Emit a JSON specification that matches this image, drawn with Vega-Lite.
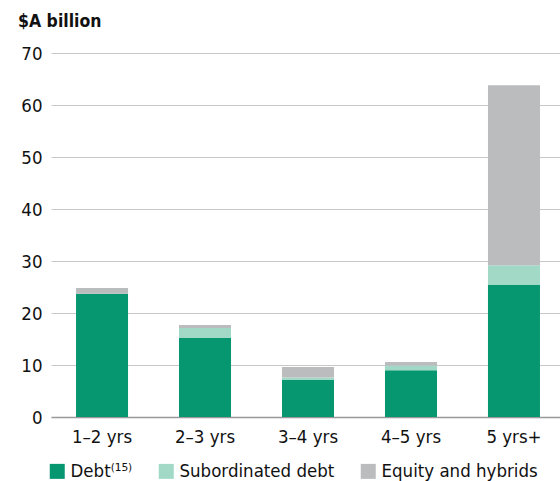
{
  "$schema": "https://vega.github.io/schema/vega-lite/v6.json",
  "autosize": "none",
  "width": 514,
  "height": 364,
  "padding": {"left": 51, "top": 53, "right": 0, "bottom": 64},
  "background": "white",
  "title": {
    "text": "$A billion",
    "anchor": "start",
    "frame": "group",
    "orient": "top",
    "offset": 14,
    "dx": -33,
    "fontSize": 17.5,
    "fontWeight": "bold",
    "color": "#111",
    "font": "Liberation Sans Narrow, DejaVu Sans Condensed, sans-serif"
  },
  "config": {
    "font": "Liberation Sans Narrow, DejaVu Sans Condensed, sans-serif",
    "view": {"stroke": null}
  },
  "data": {
    "values": [
      {"term": "1–2 yrs", "type": "Debt⁽¹⁵⁾", "value": 23.7},
      {"term": "1–2 yrs", "type": "Subordinated debt", "value": 0},
      {"term": "1–2 yrs", "type": "Equity and hybrids", "value": 1.1},
      {"term": "2–3 yrs", "type": "Debt⁽¹⁵⁾", "value": 15.2},
      {"term": "2–3 yrs", "type": "Subordinated debt", "value": 1.9},
      {"term": "2–3 yrs", "type": "Equity and hybrids", "value": 0.6},
      {"term": "3–4 yrs", "type": "Debt⁽¹⁵⁾", "value": 7.1},
      {"term": "3–4 yrs", "type": "Subordinated debt", "value": 0.5},
      {"term": "3–4 yrs", "type": "Equity and hybrids", "value": 2.0},
      {"term": "4–5 yrs", "type": "Debt⁽¹⁵⁾", "value": 9.0},
      {"term": "4–5 yrs", "type": "Subordinated debt", "value": 0.9},
      {"term": "4–5 yrs", "type": "Equity and hybrids", "value": 0.7},
      {"term": "5 yrs+", "type": "Debt⁽¹⁵⁾", "value": 25.4},
      {"term": "5 yrs+", "type": "Subordinated debt", "value": 3.8},
      {"term": "5 yrs+", "type": "Equity and hybrids", "value": 34.6}
    ]
  },
  "mark": {"type": "bar"},
  "encoding": {
    "x": {
      "field": "term",
      "type": "nominal",
      "sort": null,
      "scale": {"paddingInner": 0.495, "paddingOuter": 0.243},
      "axis": {
        "title": null,
        "labelAngle": 0,
        "labelFontSize": 18.5,
        "labelColor": "#111",
        "labelPadding": 10,
        "ticks": false,
        "domain": true,
        "domainColor": "#999",
        "domainWidth": 1.5
      }
    },
    "y": {
      "field": "value",
      "type": "quantitative",
      "stack": "zero",
      "scale": {"domain": [0, 70], "nice": false},
      "axis": {
        "title": null,
        "values": [0, 10, 20, 30, 40, 50, 60, 70],
        "labelFontSize": 18.5,
        "labelColor": "#111",
        "labelPadding": 9,
        "ticks": false,
        "domain": false,
        "gridColor": "#c8c8c8",
        "gridWidth": 1
      }
    },
    "color": {
      "field": "type",
      "type": "nominal",
      "scale": {
        "domain": ["Debt⁽¹⁵⁾", "Subordinated debt", "Equity and hybrids"],
        "range": ["#069670", "#a1d9c6", "#bbbcbe"]
      },
      "legend": {
        "title": null,
        "orient": "none",
        "legendX": -3,
        "legendY": 409,
        "direction": "horizontal",
        "symbolType": "square",
        "symbolSize": 225,
        "symbolStrokeWidth": 0,
        "labelFontSize": 18.5,
        "labelColor": "#111",
        "labelOffset": 4,
        "columnPadding": 24
      }
    },
    "order": {"field": "typeOrder"}
  }
}
